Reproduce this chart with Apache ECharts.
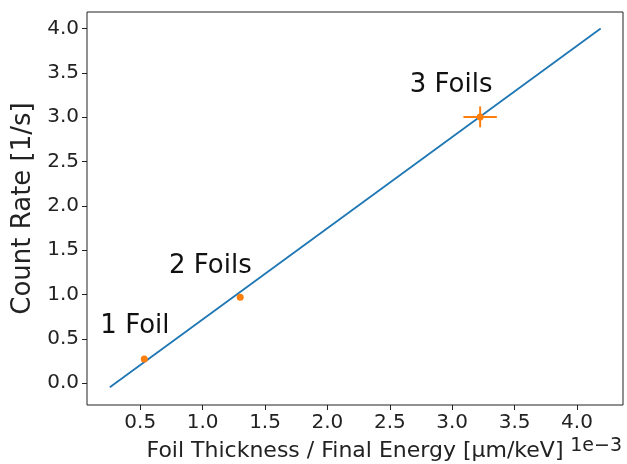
<!DOCTYPE html>
<html>
<head>
<meta charset="utf-8">
<script src="https://cdn.jsdelivr.net/npm/echarts@6/dist/echarts.min.js"></script>
<style>
html, body { margin: 0; padding: 0; background: #fff; }
#main { width: 627px; height: 464px; }
</style>
</head>
<body>
<div id="main"></div>
<script>
// measured points (x in 1e-3 um/keV, y in 1/s)
const pointX = [0.532, 1.301, 3.224]
const pointY = [0.274, 0.969, 3.004]
const errX = [0.02, 0.02, 0.134]
const errY = [0.02, 0.02, 0.118]

// linear fit, end points
const fitX = [0.256, 4.19]
const fitY = [-0.044, 4.0]

// annotations
const labelText = ['1 Foil', '2 Foils', '3 Foils']
const labelX = [0.18, 0.73, 2.66]
const labelY = [0.638, 1.319, 3.358]

const xTicks = [0.5, 1.0, 1.5, 2.0, 2.5, 3.0, 3.5, 4.0]
const yTicks = [0.0, 0.5, 1.0, 1.5, 2.0, 2.5, 3.0, 3.5, 4.0]

const font = 'DejaVu Sans'
const blue = '#1f77b4'
const orange = '#ff7f0e'

const chart = echarts.init(document.getElementById('main'))

const option = {
    animation: false,
    grid: {
        left: 87, right: 4, top: 12, bottom: 59,
        outerBoundsMode: 'none', containLabel: false,
        show: true, borderColor: '#222', borderWidth: 1, backgroundColor: '#fff'
    },
    xAxis: {
        type: 'value', min: 0.073, max: 4.369,
        name: 'Foil Thickness / Final Energy [μm/keV]',
        nameLocation: 'middle', nameGap: 35,
        nameTextStyle: { fontFamily: font, fontSize: 22, color: '#222' },
        splitLine: { show: false },
        axisLine: { show: false, onZero: false },
        axisTick: { show: true, length: 5, lineStyle: { color: '#222' }, customValues: xTicks },
        axisLabel: {
            fontFamily: font, fontSize: 20, color: '#222', margin: 8,
            customValues: xTicks, formatter: v => v.toFixed(1)
        }
    },
    yAxis: {
        type: 'value', min: -0.245, max: 4.187,
        name: 'Count Rate [1/s]',
        nameLocation: 'middle', nameGap: 50,
        nameTextStyle: { fontFamily: font, fontSize: 26, color: '#222' },
        splitLine: { show: false },
        axisLine: { show: false, onZero: false },
        axisTick: { show: true, length: 5, lineStyle: { color: '#222' }, customValues: yTicks },
        axisLabel: {
            fontFamily: font, fontSize: 20, color: '#222', margin: 8,
            customValues: yTicks, formatter: v => v.toFixed(1)
        }
    },
    graphic: [{
        type: 'text', right: 5, top: 437,
        style: { text: '1e\u22123', fontFamily: font, fontSize: 19, fill: '#222' }
    }],
    series: [
        {
            type: 'line',
            data: fitX.map((x, i) => [x, fitY[i]]),
            symbol: 'none',
            lineStyle: { color: blue, width: 1.8 },
            z: 2
        },
        {
            type: 'custom',
            data: pointX.map((x, i) => [x, pointY[i], errX[i], errY[i]]),
            renderItem(params, api) {
                const x = api.value(0), y = api.value(1)
                const ex = api.value(2), ey = api.value(3)
                const l = api.coord([x - ex, y]), r = api.coord([x + ex, y])
                const t = api.coord([x, y + ey]), b = api.coord([x, y - ey])
                const st = { stroke: orange, lineWidth: 2 }
                return {
                    type: 'group',
                    children: [
                        { type: 'line', shape: { x1: l[0], y1: l[1], x2: r[0], y2: r[1] }, style: st },
                        { type: 'line', shape: { x1: t[0], y1: t[1], x2: b[0], y2: b[1] }, style: st }
                    ]
                }
            },
            z: 3
        },
        {
            type: 'scatter',
            data: pointX.map((x, i) => [x, pointY[i]]),
            symbol: 'circle',
            symbolSize: 7,
            itemStyle: { color: orange, opacity: 1 },
            z: 4
        },
        {
            type: 'scatter',
            data: labelX.map((x, i) => ({ value: [x, labelY[i]], name: labelText[i] })),
            symbolSize: 0,
            silent: true,
            itemStyle: { opacity: 1 },
            label: {
                show: true, position: [0, 0], align: 'left', verticalAlign: 'middle',
                formatter: p => p.name,
                fontFamily: font, fontSize: 26, color: '#111', opacity: 1
            },
            z: 5
        }
    ]
}
chart.setOption(option)
</script>
</body>
</html>
